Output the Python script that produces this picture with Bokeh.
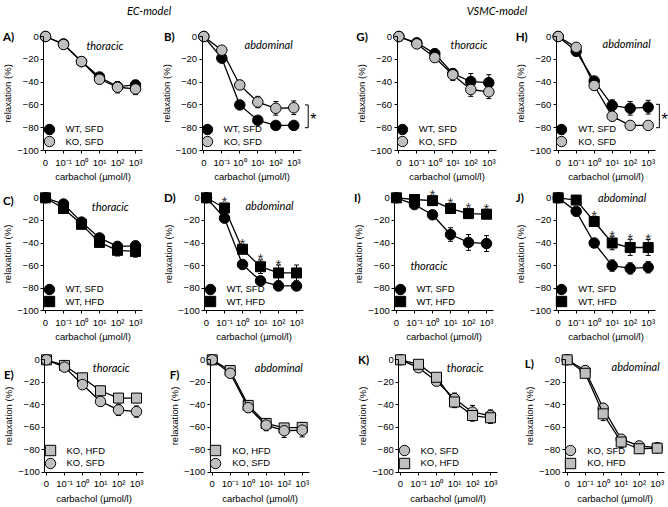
from bokeh.plotting import figure
from bokeh.models import (Range1d, FixedTicker, ColumnDataSource, Whisker, TeeHead,
                          Legend, LegendItem, Label)
from bokeh.layouts import column, row
from bokeh.embed import file_html
from bokeh.resources import INLINE
from bokeh.core.properties import value

# ---------------- data ----------------
conc_labels = ["0", "10⁻¹", "10⁰", "10¹", "10²", "10³"]
conc_idx = [0, 1, 2, 3, 4, 5]
y_ticks = [-100, -80, -60, -40, -20, 0]

# EC-model
A_wt_sfd = [0, -6.5, -22, -35.5, -44, -42.5]
A_wt_sfd_err = [0, 1.5, 2, 3, 4, 4]
A_ko_sfd = [0, -7, -22, -37.5, -44.5, -46]
A_ko_sfd_err = [0, 2, 2, 4, 5, 5]

B_wt_sfd = [0, -19, -60, -73.5, -78, -78]
B_wt_sfd_err = [0, 2, 2.5, 2.5, 2.5, 2.5]
B_ko_sfd = [0, -12, -42.5, -57.5, -63, -62.5]
B_ko_sfd_err = [0, 2, 4, 5, 6, 6]

C_wt_sfd = [0, -5.5, -21.5, -35.5, -43, -42.5]
C_wt_sfd_err = [0, 2, 2, 3, 4, 4]
C_wt_hfd = [0, -9.5, -23.5, -39.5, -46.5, -47.5]
C_wt_hfd_err = [0, 2, 2, 3, 5, 5]

D_wt_sfd = [0, -18, -59, -73.5, -78, -78]
D_wt_sfd_err = [0, 2, 2.5, 2.5, 2.5, 2.5]
D_wt_hfd = [0, -9, -45.5, -61, -66.5, -66.5]
D_wt_hfd_err = [0, 2, 4, 6, 7, 7]
D_stars = [1, 2, 3, 4]

E_ko_hfd = [0, -5, -16, -27.5, -34, -34]
E_ko_hfd_err = [0, 1.5, 2, 4, 4, 4]
E_ko_sfd = [0, -6.5, -22, -37, -44.5, -46]
E_ko_sfd_err = [0, 2, 2, 4, 5, 5]

F_ko_hfd = [0, -9.5, -40.5, -56.5, -60.5, -60]
F_ko_hfd_err = [0, 2, 4, 4, 4, 4]
F_ko_sfd = [0, -12, -42.5, -58, -63, -62.5]
F_ko_sfd_err = [0, 2, 4, 5, 6, 6]

# VSMC-model
G_wt_sfd = [0, -5.5, -15, -32.5, -39.5, -40.5]
G_wt_sfd_err = [0, 2, 2, 4, 7, 7]
G_ko_sfd = [0, -6.5, -18.5, -33.5, -46.5, -48.5]
G_ko_sfd_err = [0, 2, 2.5, 5, 6, 6]

H_wt_sfd = [0, -13, -39, -60.5, -63, -62]
H_wt_sfd_err = [0, 2, 3, 5, 6, 6]
H_ko_sfd = [0, -9.5, -43, -70, -78, -78]
H_ko_sfd_err = [0, 2, 3, 2, 2, 2]

I_wt_sfd = [0, -6, -15, -32.5, -39.5, -40.5]
I_wt_sfd_err = [0, 2, 2, 6, 7, 7]
I_wt_hfd = [0, -1.5, -2.5, -9.5, -14, -14.5]
I_wt_hfd_err = [0, 1, 1, 3, 4, 4]
I_stars = [2, 3, 4, 5]

J_wt_sfd = [0, -12, -40, -60, -62.5, -61.5]
J_wt_sfd_err = [0, 2, 4, 5, 5, 5]
J_wt_hfd = [0, -2, -21, -40, -44, -44]
J_wt_hfd_err = [0, 1, 4, 6, 7, 7]
J_stars = [2, 3, 4, 5]

K_ko_sfd = [0, -7, -19, -34.5, -46.5, -49.5]
K_ko_sfd_err = [0, 2, 3, 5, 6, 5]
K_ko_hfd = [0, -4, -15.5, -37.5, -49.5, -51.5]
K_ko_hfd_err = [0, 2, 3, 5, 5, 5]

L_ko_sfd = [0, -9.5, -43, -70.5, -76.5, -78]
L_ko_sfd_err = [0, 2, 4, 3, 3, 3]
L_ko_hfd = [0, -12, -48, -73, -79, -78.5]
L_ko_hfd_err = [0, 2, 6, 5, 4, 4]

# ---------------- styles / geometry ----------------
GREY = "#bfbfbf"
STYLE = {
    "WT, SFD": dict(marker="circle", fill="#000000", size=10.5),
    "KO, SFD": dict(marker="circle", fill=GREY, size=10.5),
    "WT, HFD": dict(marker="square", fill="#000000", size=10),
    "KO, HFD": dict(marker="square", fill=GREY, size=10),
}
FONT = "Liberation Sans"
PX = 18.0  # pixels per concentration step

# figure height, px from figure top to the 0 % level, px per % unit
ROWS = [
    dict(fh=165, zero=18.0, s=1.14),
    dict(fh=163, zero=14.3, s=1.13),
    dict(fh=158, zero=13.3, s=1.126),
]

# geo = (figure width, px from figure left to first concentration)
PANELS = [
    [dict(tag="A)", region="thoracic", rpos=(3.3, -8), geo=(162, 45.0), ly=0,
          series=[("WT, SFD", A_wt_sfd, A_wt_sfd_err), ("KO, SFD", A_ko_sfd, A_ko_sfd_err)]),
     dict(tag="B)", region="abdominal", rpos=(3.6, -7), geo=(188, 41.3), ly=0, bracket=5.8,
          series=[("WT, SFD", B_wt_sfd, B_wt_sfd_err), ("KO, SFD", B_ko_sfd, B_ko_sfd_err)]),
     dict(tag="G)", region="thoracic", rpos=(3.9, -7), geo=(162, 48.3), ly=0,
          series=[("WT, SFD", G_wt_sfd, G_wt_sfd_err), ("KO, SFD", G_ko_sfd, G_ko_sfd_err)]),
     dict(tag="H)", region="abdominal", rpos=(3.8, -6), geo=(156, 45.7), ly=0, bracket=5.62,
          series=[("WT, SFD", H_wt_sfd, H_wt_sfd_err), ("KO, SFD", H_ko_sfd, H_ko_sfd_err)])],
    [dict(tag="C)", region="thoracic", rpos=(3.6, -8), geo=(162, 45.0), ly=-2,
          series=[("WT, SFD", C_wt_sfd, C_wt_sfd_err), ("WT, HFD", C_wt_hfd, C_wt_hfd_err)]),
     dict(tag="D)", region="abdominal", rpos=(3.5, -7), geo=(188, 44.0), ly=0, stars=D_stars,
          series=[("WT, SFD", D_wt_sfd, D_wt_sfd_err), ("WT, HFD", D_wt_hfd, D_wt_hfd_err)]),
     dict(tag="I)", region="thoracic", rpos=(1.8, -60), geo=(162, 46.0), ly=0, stars=I_stars,
          series=[("WT, SFD", I_wt_sfd, I_wt_sfd_err), ("WT, HFD", I_wt_hfd, I_wt_hfd_err)]),
     dict(tag="J)", region="abdominal", rpos=(3.55, 0), geo=(156, 45.7), ly=0, stars=J_stars,
          series=[("WT, SFD", J_wt_sfd, J_wt_sfd_err), ("WT, HFD", J_wt_hfd, J_wt_hfd_err)])],
    [dict(tag="E)", region="thoracic", rpos=(3.6, -6.5), geo=(162, 46.0), ly=-13,
          series=[("KO, HFD", E_ko_hfd, E_ko_hfd_err), ("KO, SFD", E_ko_sfd, E_ko_sfd_err)]),
     dict(tag="F)", region="abdominal", rpos=(3.7, -7), geo=(188, 49.7), ly=-13,
          series=[("KO, HFD", F_ko_hfd, F_ko_hfd_err), ("KO, SFD", F_ko_sfd, F_ko_sfd_err)]),
     dict(tag="K)", region="thoracic", rpos=(3.6, -7), geo=(162, 50.0), ly=0,
          series=[("KO, SFD", K_ko_sfd, K_ko_sfd_err), ("KO, HFD", K_ko_hfd, K_ko_hfd_err)]),
     dict(tag="L)", region="abdominal", rpos=(3.8, -6), geo=(156, 54.7), ly=-3,
          series=[("KO, SFD", L_ko_sfd, L_ko_sfd_err), ("KO, HFD", L_ko_hfd, L_ko_hfd_err)])],
]


def make_panel(cfg, rcfg):
    fw, ox = cfg["geo"]
    fh, zero, s = rcfg["fh"], rcfg["zero"], rcfg["s"]
    x0 = -ox / PX
    ytop = zero / s
    p = figure(frame_width=fw, frame_height=fh,
               x_range=Range1d(x0, x0 + fw / PX), y_range=Range1d(ytop - fh / s, ytop),
               min_border=0, output_backend="svg", toolbar_location=None)
    p.outline_line_color = None
    p.grid.visible = False
    p.background_fill_color = "white"

    xa, ya = p.xaxis[0], p.yaxis[0]
    xa.fixed_location = -100
    ya.fixed_location = -0.1
    xa.bounds = (-0.1, 5.4)
    ya.bounds = (-100, 0)
    xa.ticker = FixedTicker(ticks=conc_idx)
    xa.major_label_overrides = {i: lab for i, lab in zip(conc_idx, conc_labels)}
    ya.ticker = FixedTicker(ticks=y_ticks)
    xa.axis_label = "carbachol (µmol/l)"
    ya.axis_label = "relaxation (%)"
    for ax in (xa, ya):
        ax.axis_line_color = "black"
        ax.axis_line_width = 1
        ax.major_tick_line_color = "black"
        ax.major_tick_in = 0
        ax.major_tick_out = 3
        ax.minor_tick_line_color = None
        ax.major_label_text_font = FONT
        ax.major_label_text_font_size = "9.5px"
        ax.major_label_text_color = "black"
        ax.axis_label_text_font = FONT
        ax.axis_label_text_font_size = "9.5px"
        ax.axis_label_text_font_style = "normal"
        ax.axis_label_text_color = "black"
    xa.major_label_standoff = 3
    xa.axis_label_standoff = 0
    ya.major_label_standoff = 2
    ya.axis_label_standoff = 1

    scatters = []
    for name, vals, errs in cfg["series"]:
        st = STYLE[name]
        src = ColumnDataSource(dict(x=conc_idx, y=vals,
                                    upper=[v + e for v, e in zip(vals, errs)],
                                    lower=[v - e for v, e in zip(vals, errs)]))
        p.add_layout(Whisker(source=src, base="x", upper="upper", lower="lower",
                             dimension="height", line_color="black", line_width=1,
                             upper_head=TeeHead(size=5, line_color="black", line_width=1),
                             lower_head=TeeHead(size=5, line_color="black", line_width=1)))
        p.line("x", "y", source=src, line_color="black", line_width=1.3)
        sc = p.scatter("x", "y", source=src, marker=st["marker"], size=st["size"],
                       fill_color=st["fill"], line_color="black", line_width=1)
        scatters.append((name, sc))

    # legend: one Legend per entry so the rows can sit 12.5 px apart
    axis_from_bottom = fh - (zero + 100 * s)
    base_y = axis_from_bottom - 4
    lx = ox - 9.5
    for k, (name, sc) in enumerate(scatters):
        leg = Legend(items=[LegendItem(label=name, renderers=[sc])],
                     location=(lx, base_y + 12.5 * (len(scatters) - 1 - k)),
                     glyph_width=26, glyph_height=26, padding=0, margin=0, spacing=0,
                     label_standoff=4, label_text_font=FONT, label_text_font_size="9.5px",
                     label_text_color="black", label_height=13,
                     background_fill_alpha=0, border_line_color=None)
        p.add_layout(leg)

    if "stars" in cfg:
        _, vals, errs = cfg["series"][1]
        sx = list(cfg["stars"])
        sy = [vals[i] + max(errs[i], 4.5) for i in cfg["stars"]]
        p.text(x=sx, y=sy, text=["*"] * len(sx), text_font=value(FONT),
               text_font_size="15px", text_color="#333333", text_align="center",
               text_baseline="middle", y_offset=-1)

    if "bracket" in cfg:
        last = [sr[1][-1] for sr in cfg["series"]]
        top, bot = max(last) + 2.5, min(last) - 2
        xb = cfg["bracket"]
        p.line(x=[xb - 0.18, xb, xb, xb - 0.18], y=[top, top, bot, bot],
               line_color="black", line_width=1)
        p.text(x=[xb + 0.12], y=[(top + bot) / 2], text=["*"], text_font=value(FONT),
               text_font_size="16px", text_color="black", text_align="left",
               text_baseline="middle", y_offset=3)

    p.add_layout(Label(x=max(ox - 42.5, 1.5), y=cfg["ly"], x_units="screen", y_units="data",
                       text=cfg["tag"], text_font="Lato", text_font_style="bold",
                       text_font_size="11.5px", text_color="black", text_align="left",
                       text_baseline="middle"))
    rx, ry = cfg["rpos"]
    p.add_layout(Label(x=rx, y=ry, text=cfg["region"], text_font="Lato",
                       text_font_style="italic", text_font_size="11px", text_color="black",
                       text_align="center", text_baseline="middle"))
    return p


# title strip
title = figure(frame_width=668, frame_height=18, x_range=Range1d(0, 668), y_range=Range1d(0, 18),
               min_border=0, x_axis_location=None, y_axis_location=None,
               output_backend="svg", toolbar_location=None)
title.outline_line_color = None
title.grid.visible = False
for txt, cx in (("EC-model", 148.5), ("VSMC-model", 496.5)):
    title.add_layout(Label(x=cx, y=8, text=txt, text_font="Lato", text_font_style="italic",
                           text_font_size="11px", text_color="black", text_align="center",
                           text_baseline="middle"))

rows = [row([make_panel(c, rcfg) for c in prow], spacing=0) for rcfg, prow in zip(ROWS, PANELS)]
layout = column([title] + rows, spacing=0)
open("out.html", "w").write(file_html(layout, INLINE))
